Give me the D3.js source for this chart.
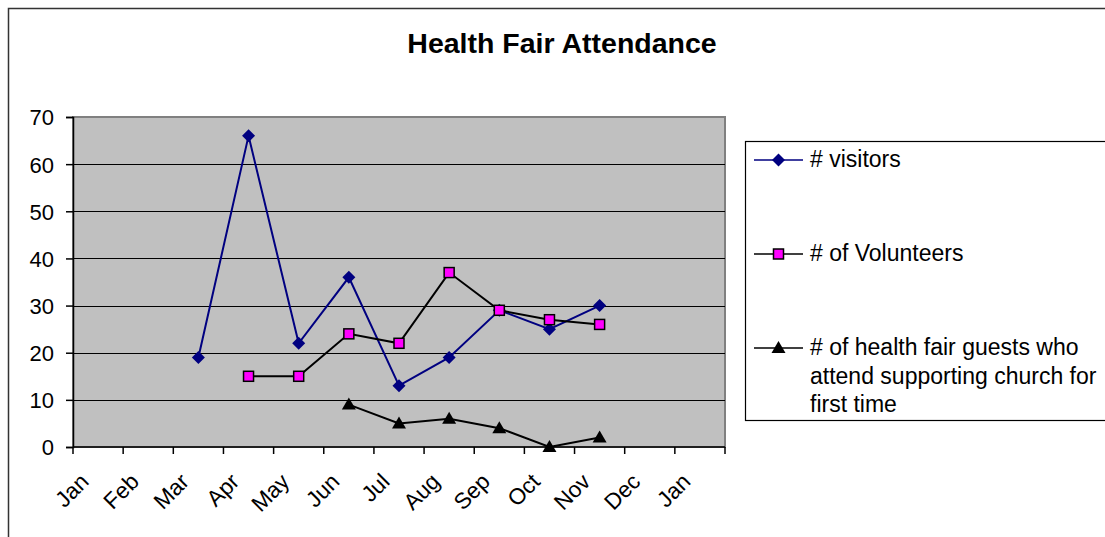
<!DOCTYPE html>
<html>
<head>
<meta charset="utf-8">
<script src="https://cdn.jsdelivr.net/npm/d3@7"></script>
<style>
  body { margin: 0; background: #fff; }
  text { font-family: "Liberation Sans", Arial, sans-serif; fill: #000; }
</style>
</head>
<body>
<div id="chart"></div>
<script>
var months = ["Jan", "Feb", "Mar", "Apr", "May", "Jun", "Jul", "Aug", "Sep", "Oct", "Nov", "Dec", "Jan "];
var visitorMonths = ["Mar", "Apr", "May", "Jun", "Jul", "Aug", "Sep", "Oct", "Nov"];
var visitors = [19, 66, 22, 36, 13, 19, 29, 25, 30];
var volunteerMonths = ["Apr", "May", "Jun", "Jul", "Aug", "Sep", "Oct", "Nov"];
var volunteers = [15, 15, 24, 22, 37, 29, 27, 26];
var guestMonths = ["Jun", "Jul", "Aug", "Sep", "Oct", "Nov"];
var guests = [9, 5, 6, 4, 0, 2];
var yTicks = [0, 10, 20, 30, 40, 50, 60, 70];

var width = 1105, height = 537;
var plotLeft = 73, plotRight = 725, plotTop = 117, plotBottom = 447;

var svg = d3.select("#chart").append("svg")
    .attr("width", width)
    .attr("height", height);

// outer chart border
svg.append("rect")
    .attr("x", 8.5).attr("y", 8.5)
    .attr("width", 1200).attr("height", 600)
    .attr("fill", "none")
    .attr("stroke", "#333")
    .attr("stroke-width", 1.5);

svg.append("text")
    .attr("x", 562).attr("y", 53)
    .attr("text-anchor", "middle")
    .style("font-size", "28.5px")
    .style("font-weight", "bold")
    .text("Health Fair Attendance");

var x = d3.scaleBand().domain(months).range([plotLeft, plotRight]);
var y = d3.scaleLinear().domain([0, 70]).range([plotBottom, plotTop]);

svg.append("rect")
    .attr("x", plotLeft).attr("y", plotTop)
    .attr("width", plotRight - plotLeft).attr("height", plotBottom - plotTop)
    .attr("fill", "#c0c0c0")
    .attr("stroke", "#808080")
    .attr("stroke-width", 2);

svg.selectAll(".grid")
    .data(yTicks.filter(function (d) { return d > 0 && d < 70; }))
    .enter()
    .append("line")
    .attr("x1", plotLeft).attr("x2", plotRight)
    .attr("y1", function (d) { return Math.round(y(d)) + 0.5; })
    .attr("y2", function (d) { return Math.round(y(d)) + 0.5; })
    .attr("stroke", "#000")
    .attr("stroke-width", 1);

// y axis
var yAxis = svg.append("g")
    .attr("transform", "translate(" + plotLeft + ",0)")
    .call(d3.axisLeft(y).tickValues(yTicks).tickSize(7).tickPadding(12));
yAxis.selectAll("text").style("font-size", "22px").attr("dy", "0.36em");
yAxis.selectAll("line").attr("stroke-width", 1.5);
yAxis.select(".domain").attr("stroke", "#000").attr("stroke-width", 1.5);

// x axis: ticks at band edges
var edges = months.map(function (m) { return x(m); }).concat([plotRight]);
svg.append("line")
    .attr("x1", plotLeft).attr("x2", plotRight)
    .attr("y1", plotBottom).attr("y2", plotBottom)
    .attr("stroke", "#000").attr("stroke-width", 1.5);
svg.selectAll(".xtick")
    .data(edges)
    .enter()
    .append("line")
    .attr("x1", function (d) { return d; }).attr("x2", function (d) { return d; })
    .attr("y1", plotBottom).attr("y2", plotBottom + 7)
    .attr("stroke", "#000").attr("stroke-width", 1.5);
svg.selectAll(".xlabel")
    .data(months)
    .enter()
    .append("text")
    .attr("text-anchor", "end")
    .style("font-size", "22.5px")
    .attr("transform", function (d) {
        var cx = x(d) + x.bandwidth() / 2;
        return "translate(" + (cx - 8) + "," + 483 + ") rotate(-45)";
    })
    .text(function (d) { return d.trim(); });

function cx(m) { return x(m) + x.bandwidth() / 2; }

function drawSeries(ms, vals, color, marker) {
    var pts = ms.map(function (m, i) { return [cx(m), y(vals[i])]; });
    svg.append("path")
        .attr("d", d3.line()(pts))
        .attr("fill", "none")
        .attr("stroke", color)
        .attr("stroke-width", 2);
    pts.forEach(function (p) { marker(svg, p[0], p[1]); });
}

function diamond(g, px, py) {
    g.append("path")
        .attr("d", "M" + px + "," + (py - 6.5) + "L" + (px + 6.5) + "," + py + "L" + px + "," + (py + 6.5) + "L" + (px - 6.5) + "," + py + "Z")
        .attr("fill", "#000080");
}
function square(g, px, py) {
    g.append("rect")
        .attr("x", px - 5).attr("y", py - 5)
        .attr("width", 10).attr("height", 10)
        .attr("fill", "#ff00ff")
        .attr("stroke", "#000")
        .attr("stroke-width", 1.5);
}
function triangle(g, px, py) {
    g.append("path")
        .attr("d", "M" + px + "," + (py - 7) + "L" + (px + 7) + "," + (py + 5) + "L" + (px - 7) + "," + (py + 5) + "Z")
        .attr("fill", "#000");
}

drawSeries(visitorMonths, visitors, "#000080", diamond);
drawSeries(volunteerMonths, volunteers, "#000", square);
drawSeries(guestMonths, guests, "#000", triangle);

// legend
svg.append("rect")
    .attr("x", 745.5).attr("y", 141.5)
    .attr("width", 400).attr("height", 279)
    .attr("fill", "#fff")
    .attr("stroke", "#000")
    .attr("stroke-width", 1.2);

var legendItems = [
    { lines: ["# visitors"], color: "#000080", marker: diamond, y: 160 },
    { lines: ["# of Volunteers"], color: "#000", marker: square, y: 254 },
    { lines: ["# of health fair guests who", "attend supporting church for", "first time"], color: "#000", marker: triangle, y: 348 }
];
legendItems.forEach(function (it) {
    svg.append("line")
        .attr("x1", 754).attr("x2", 803)
        .attr("y1", it.y).attr("y2", it.y)
        .attr("stroke", it.color).attr("stroke-width", 1.5);
    it.marker(svg, 778.5, it.y);
    it.lines.forEach(function (t, i) {
        svg.append("text")
            .attr("x", 810).attr("y", it.y + 7 + i * 28.5)
            .style("font-size", "23px")
            .text(t);
    });
});
</script>
</body>
</html>
